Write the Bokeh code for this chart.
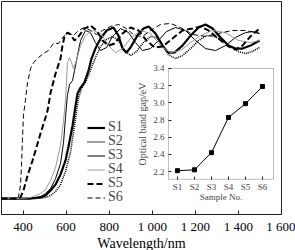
from bokeh.plotting import figure
from bokeh.models import (Range1d, LinearAxis, FixedTicker, Legend, LegendItem,
                          BoxAnnotation, PrintfTickFormatter, Title)
from bokeh.embed import file_html
from bokeh.resources import INLINE

# ---------------- data ----------------
s1_wl = [300, 435, 481, 504, 528, 551, 574, 597, 611, 630, 644, 653, 667, 685, 704, 718, 736, 760, 788, 820,
         843, 862, 880, 899, 931, 959, 983, 1015, 1048, 1075, 1103, 1140, 1178, 1215, 1247, 1280, 1317, 1354,
         1386, 1419, 1456, 1498]
s1_t = [0, 0, 0.5, 1.4, 3.8, 6.6, 11.3, 17.8, 24.4, 34.3, 43.7, 49.3, 52.1, 54.5, 60.1, 65.7, 70.4, 75.1, 78.9,
        80.3, 76.5, 70.4, 68.5, 70.9, 76.5, 79.8, 80.8, 77.5, 71.8, 68.5, 68.5, 71.8, 76.5, 80.3, 81.7, 79.8,
        75.6, 71.8, 70.4, 70.4, 71.8, 74.2]

s2_wl = [300, 458, 504, 528, 551, 574, 597, 620, 639, 658, 671, 690, 713, 736, 760, 788, 815, 843, 871, 899,
         927, 955, 992, 1020, 1048, 1075, 1108, 1140, 1178, 1215, 1252, 1289, 1326, 1363, 1400, 1433, 1465, 1498]
s2_t = [0, 0, 0.5, 1.4, 3.3, 6.6, 12.7, 21.6, 34.3, 47.4, 51.6, 54.5, 60.1, 66.2, 71.4, 74.6, 76.1, 74.2, 69.5,
        67.1, 69.0, 72.8, 76.1, 75.6, 71.8, 67.6, 65.7, 67.1, 70.4, 74.2, 76.5, 76.1, 74.2, 71.4, 69.0, 68.1,
        69.0, 70.9]

s3_wl = [300, 411, 458, 481, 504, 528, 551, 574, 588, 597, 606, 616, 630, 639, 653, 667, 690, 713, 736, 760,
         788, 815, 853, 890, 922, 955, 992, 1029, 1066, 1108, 1154, 1201, 1247, 1294, 1340, 1386, 1433, 1465, 1498]
s3_t = [0, 0, 0.5, 0.9, 2.3, 4.7, 9.4, 16.4, 26.3, 38.0, 48.4, 53.5, 55.4, 60.1, 67.1, 74.2, 78.9, 77.9, 73.2,
        69.5, 70.9, 76.1, 79.8, 77.9, 73.2, 69.5, 70.4, 74.2, 78.4, 80.3, 78.9, 74.2, 70.4, 69.5, 71.8, 75.6,
        77.9, 78.4, 77.5]

s4_wl = [300, 388, 435, 458, 481, 504, 528, 551, 574, 588, 597, 602, 606, 616, 625, 634, 648, 667, 690, 722,
         760, 797, 829, 862, 899, 945, 992, 1038, 1085, 1131, 1178, 1224, 1280, 1340, 1400, 1456, 1498]
s4_t = [0, 0, 0.5, 1.4, 2.3, 4.2, 8.5, 14.6, 24.9, 36.6, 46.0, 55.4, 63.8, 66.2, 63.8, 61.0, 64.8, 71.8, 76.5,
        78.9, 77.5, 71.8, 68.5, 70.4, 75.1, 78.9, 77.5, 71.8, 68.5, 69.5, 73.2, 76.5, 78.9, 77.9, 74.2, 73.2, 74.2]

s5_wl = [300, 365, 388, 402, 421, 444, 462, 481, 500, 514, 528, 551, 574, 583, 593, 606, 620, 639, 658, 685,
         713, 741, 769, 797, 825, 862, 899, 936, 973, 1011, 1048, 1094, 1140, 1187, 1224, 1261, 1307, 1354,
         1386, 1419, 1456, 1498]
s5_t = [0, 0, 0.5, 3.8, 10.8, 17.8, 23.9, 30.5, 36.6, 41.3, 49.8, 58.7, 65.7, 71.8, 76.1, 77.9, 77.0, 74.2,
        76.1, 79.8, 81.2, 78.9, 74.2, 71.8, 72.8, 77.5, 80.3, 78.9, 74.2, 70.9, 71.4, 75.1, 78.9, 79.8, 80.8,
        78.9, 75.1, 71.4, 69.9, 71.8, 76.1, 79.8]

s6_wl = [300, 370, 379, 388, 393, 397, 402, 411, 421, 435, 449, 472, 495, 518, 541, 565, 588, 611, 634, 658,
         685, 713, 741, 769, 806, 843, 880, 918, 955, 992, 1038, 1085, 1131, 1187, 1247, 1307, 1372, 1433, 1498]
s6_t = [0, 0, 0.9, 6.1, 15.5, 27.2, 39.0, 46.0, 54.5, 61.0, 63.8, 66.2, 68.1, 69.5, 72.8, 72.8, 76.1, 77.9,
        76.5, 78.9, 80.3, 78.9, 77.0, 78.9, 80.8, 81.7, 79.8, 76.5, 76.1, 78.9, 81.7, 82.2, 80.3, 77.0, 76.1,
        77.5, 78.9, 78.9, 77.5]

samples = ["S1", "S2", "S3", "S4", "S5", "S6"]
sample_idx = [1, 2, 3, 4, 5, 6]
band_gap = [2.21, 2.22, 2.42, 2.83, 2.99, 3.19]

x_ticks = [400, 600, 800, 1000, 1200, 1400, 1600]
x_tick_labels = ["400", "600", "800", "1 000", "1 200", "1 400", "1 600"]
gap_ticks = [2.2, 2.4, 2.6, 2.8, 3.0, 3.2, 3.4]

# ---------------- figure ----------------
FONT = "Liberation Serif"
INK = "#222222"

p = figure(width=295, height=250, output_backend="svg", toolbar_location=None,
           x_range=Range1d(300, 1600), y_range=Range1d(-7.5, 92.5),
           y_axis_location=None, min_border_left=1, min_border_right=14,
           min_border_top=1, min_border_bottom=36)
p.grid.visible = False
p.outline_line_color = INK
p.outline_line_width = 1
p.background_fill_color = "white"
p.border_fill_color = "white"

ax = p.xaxis[0]
ax.ticker = FixedTicker(ticks=x_ticks)
ax.major_label_overrides = {t: l for t, l in zip(x_ticks, x_tick_labels)}
ax.major_tick_in = 4
ax.major_tick_out = 0
ax.minor_tick_line_color = None
ax.axis_line_color = INK
ax.major_tick_line_color = INK
ax.major_label_text_font = FONT
ax.major_label_text_font_size = "13px"
ax.major_label_text_color = "black"
ax.major_label_standoff = 4

# axis title below the tick labels
p.add_layout(Title(text="Wavelength/nm", align="center", text_font=FONT,
                   text_font_size="14px", text_font_style="normal", text_color="black",
                   standoff=-5, offset=0), "below")

r1 = p.line(s1_wl, s1_t, line_color="black", line_width=2.2)
r2 = p.line(s2_wl, s2_t, line_color="black", line_width=1.6, line_dash="1 1")
r3 = p.line(s3_wl, s3_t, line_color="black", line_width=1)
r4 = p.line(s4_wl, s4_t, line_color="#9a9a9a", line_width=1)
r5 = p.line(s5_wl, s5_t, line_color="black", line_width=2, line_dash="6 3")
r6 = p.line(s6_wl, s6_t, line_color="black", line_width=1, line_dash="5 3")

# one single-entry legend per row, so the rows can sit as tightly as in the original
legend_rows_y = [79, 65, 51, 37, 23, 9]
for s, r, ly in zip(samples, [r1, r2, r3, r4, r5, r6], legend_rows_y):
    p.add_layout(Legend(items=[LegendItem(label=s, renderers=[r])],
                        location=(86, ly), padding=0, margin=0, spacing=0,
                        glyph_width=18, glyph_height=11, label_height=11, label_standoff=3,
                        label_text_font=FONT, label_text_font_size="14px",
                        background_fill_alpha=0, border_line_alpha=0), "center")

# ---------------- inset ----------------
p.extra_x_ranges = {"ix": Range1d(-9.35, 7.12)}
p.extra_y_ranges = {"iy": Range1d(1.70, 4.18)}

p.add_layout(BoxAnnotation(left=0.47, right=6.65, bottom=2.11, top=3.4,
                           x_range_name="ix", y_range_name="iy",
                           fill_color="white", fill_alpha=1,
                           line_color=INK, line_width=1, level="underlay"))

p.line(sample_idx, band_gap, x_range_name="ix", y_range_name="iy",
       line_color="black", line_width=1)
p.scatter(sample_idx, band_gap, x_range_name="ix", y_range_name="iy",
          marker="square", size=4, fill_color="black", line_color="black")

iy = LinearAxis(x_range_name="ix", y_range_name="iy", fixed_location=0.47,
                bounds=(2.11, 3.4), ticker=FixedTicker(ticks=gap_ticks),
                formatter=PrintfTickFormatter(format="%.1f"),
                axis_label="Optical band gap/eV")
iy.major_tick_in = 3
iy.major_tick_out = 0
iy.minor_tick_line_color = None
iy.axis_line_color = None
iy.major_tick_line_color = INK
iy.major_label_text_font = FONT
iy.major_label_text_font_size = "9px"
iy.major_label_standoff = 4
iy.axis_label_text_font = FONT
iy.axis_label_text_font_style = "normal"
iy.axis_label_text_font_size = "10px"
iy.axis_label_standoff = 2
p.add_layout(iy, "left")

ix = LinearAxis(x_range_name="ix", y_range_name="iy", fixed_location=2.11,
                bounds=(0.47, 6.65), ticker=FixedTicker(ticks=sample_idx),
                major_label_overrides={i: s for i, s in zip(sample_idx, samples)},
                axis_label="Sample No.")
ix.major_tick_in = 3
ix.major_tick_out = 0
ix.minor_tick_line_color = None
ix.axis_line_color = None
ix.major_tick_line_color = INK
ix.major_label_text_font = FONT
ix.major_label_text_font_size = "9px"
ix.major_label_standoff = 3
ix.axis_label_text_font = FONT
ix.axis_label_text_font_style = "normal"
ix.axis_label_text_font_size = "9px"
ix.axis_label_standoff = -4
p.add_layout(ix, "below")

open("out.html", "w").write(file_html(p, INLINE))
